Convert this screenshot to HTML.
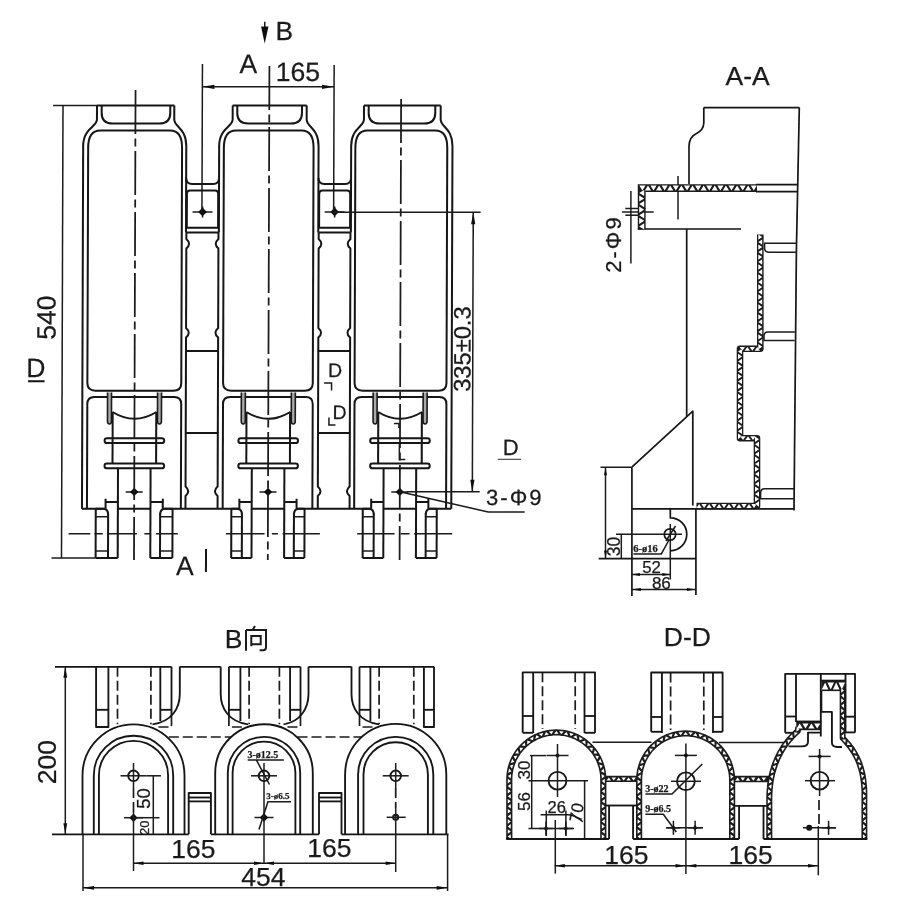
<!DOCTYPE html>
<html lang="en">
<head>
<meta charset="utf-8">
<title>Drawing</title>
<style>
html,body{margin:0;padding:0;background:#fff;}
body{width:900px;height:920px;overflow:hidden;}
svg{display:block;}
text{font-family:"Liberation Sans",sans-serif;fill:#1a1a1a;stroke:#1a1a1a;stroke-width:0.25;}
.m{fill:none;stroke:#141414;stroke-width:2.0;stroke-linecap:butt;stroke-linejoin:round;}
.m2{fill:#aaa;stroke:#1a1a1a;stroke-width:1.6;}
.t{fill:none;stroke:#1a1a1a;stroke-width:1.5;}
#aa .m{stroke-width:1.7;}
#dd .m,#bview .m{stroke-width:1.85;}
.g{fill:none;stroke:#555;stroke-width:1.2;}
.f{fill:#111;stroke:none;}
.c{fill:none;stroke:#1a1a1a;stroke-width:1.75;stroke-dasharray:44 4.5 8 4.5;}
.c2{fill:none;stroke:#1a1a1a;stroke-width:1.5;}
.d{fill:none;stroke:#1a1a1a;stroke-width:1.7;stroke-dasharray:10 4;}
</style>
</head>
<body>
<svg width="900" height="920" viewBox="0 0 900 920">
<defs><filter id="soft" x="0" y="0" width="900" height="920" filterUnits="userSpaceOnUse"><feGaussianBlur stdDeviation="0.45"/></filter></defs>
<rect x="0" y="0" width="900" height="920" fill="#ffffff"/>
<g filter="url(#soft)">
<g id="front" transform="translate(0.35,0) skewX(-0.19)">
<path class="m" d="M97.0,105.5L174.3,105.5"/>
<path class="m" d="M97.0,105.5V119.5C97.0,127 83.3,128 83.3,146V508.7"/>
<path class="m" d="M174.3,105.5V119.5C174.3,127 186.4,128 186.4,146V232.6"/>
<path class="m" d="M101.7,105.5V113Q101.7,123.6 112.7,123.6H159.3Q170.3,123.6 170.3,113V105.5"/>
<path class="m" d="M88.3,148Q88.3,130.6 100.3,130.6H170.2Q182.2,130.6 182.2,148V383Q182.2,390.7 174.2,390.7H96.3Q88.3,390.7 88.3,383Z"/>
<path class="m" d="M88.3,508.7V404Q88.3,397 95.3,397H175.2Q182.2,397 182.2,404V508.7"/>
<path class="m2" d="M108.5,392.5V421Q108.5,424 110.5,424Q112.5,424 112.5,421V392.5"/>
<path class="m" d="M113.7,412.0L113.7,464.0"/>
<path class="m2" d="M162.5,392.5V421Q162.5,424 160.5,424Q158.5,424 158.5,421V392.5"/>
<path class="m" d="M157.3,412.0L157.3,464.0"/>
<path class="m" d="M113.5,412Q135.5,425.5 157.5,412"/>
<rect class="m" x="105.7" y="438.2" width="59.6" height="4.9" rx="2.4"/>
<rect class="m" x="105.7" y="463.4" width="59.6" height="4.9" rx="2.4"/>
<path class="m" d="M119.2,468.2L119.2,557.9"/>
<path class="m" d="M151.8,468.2L151.8,557.9"/>
<path class="m" d="M97.1,508.7L97.1,557.9"/>
<path class="m" d="M109.5,513.5L109.5,557.9"/>
<path class="m" d="M97.1,508.7H105.2Q109.5,509.3 109.5,514.5"/>
<path class="t" d="M97.1,516.7L109.5,516.7"/>
<path class="t" d="M97.1,551.0L109.5,551.0"/>
<path class="m" d="M106.9,498.7L106.9,508.7"/>
<path class="m" d="M106.9,502.0L119.2,502.0"/>
<path class="m" d="M97.1,557.9L119.2,557.9"/>
<path class="m" d="M173.9,508.7L173.9,557.9"/>
<path class="m" d="M161.5,513.5L161.5,557.9"/>
<path class="m" d="M173.9,508.7H165.8Q161.5,509.3 161.5,514.5"/>
<path class="t" d="M173.9,516.7L161.5,516.7"/>
<path class="t" d="M173.9,551.0L161.5,551.0"/>
<path class="m" d="M164.1,498.7L164.1,508.7"/>
<path class="m" d="M164.1,502.0L151.8,502.0"/>
<path class="m" d="M173.9,557.9L151.8,557.9"/>
<path class="m" d="M119.2,508.7L151.8,508.7"/>
<path class="t" d="M127.0,491.9L144.0,491.9"/>
<path class="f" d="M131.3,491.9L135.5,487.7L139.7,491.9L135.5,496.1Z"/>
<path class="c" d="M135.5,90.0L135.5,560.0"/>
<path class="m" d="M232.7,105.5L306.7,105.5"/>
<path class="m" d="M232.7,105.5V119.5C232.7,127 219.3,128 219.3,146V232.6"/>
<path class="m" d="M306.7,105.5V119.5C306.7,127 318.7,128 318.7,146V232.6"/>
<path class="m" d="M237.3,105.5V113Q237.3,123.6 248.3,123.6H291.0Q302.0,123.6 302.0,113V105.5"/>
<path class="m" d="M224.0,148Q224.0,130.6 236.0,130.6H301.7Q313.7,130.6 313.7,148V383Q313.7,390.7 305.7,390.7H232.0Q224.0,390.7 224.0,383Z"/>
<path class="m" d="M224.0,508.7V404Q224.0,397 231.0,397H306.7Q313.7,397 313.7,404V508.7"/>
<path class="m2" d="M242.3,392.5V421Q242.3,424 244.3,424Q246.3,424 246.3,421V392.5"/>
<path class="m" d="M247.5,412.0L247.5,464.0"/>
<path class="m2" d="M296.3,392.5V421Q296.3,424 294.3,424Q292.3,424 292.3,421V392.5"/>
<path class="m" d="M291.1,412.0L291.1,464.0"/>
<path class="m" d="M247.3,412Q269.3,425.5 291.3,412"/>
<rect class="m" x="239.5" y="438.2" width="59.6" height="4.9" rx="2.4"/>
<rect class="m" x="239.5" y="463.4" width="59.6" height="4.9" rx="2.4"/>
<path class="m" d="M253.0,468.2L253.0,557.9"/>
<path class="m" d="M285.6,468.2L285.6,557.9"/>
<path class="m" d="M232.7,508.7L232.7,557.9"/>
<path class="m" d="M243.3,513.5L243.3,557.9"/>
<path class="m" d="M232.7,508.7H239.0Q243.3,509.3 243.3,514.5"/>
<path class="t" d="M232.7,516.7L243.3,516.7"/>
<path class="t" d="M232.7,551.0L243.3,551.0"/>
<path class="m" d="M240.7,498.7L240.7,508.7"/>
<path class="m" d="M240.7,502.0L253.0,502.0"/>
<path class="m" d="M232.7,557.9L253.0,557.9"/>
<path class="m" d="M305.9,508.7L305.9,557.9"/>
<path class="m" d="M295.3,513.5L295.3,557.9"/>
<path class="m" d="M305.9,508.7H299.6Q295.3,509.3 295.3,514.5"/>
<path class="t" d="M305.9,516.7L295.3,516.7"/>
<path class="t" d="M305.9,551.0L295.3,551.0"/>
<path class="m" d="M297.9,498.7L297.9,508.7"/>
<path class="m" d="M297.9,502.0L285.6,502.0"/>
<path class="m" d="M305.9,557.9L285.6,557.9"/>
<path class="m" d="M253.0,508.7L285.6,508.7"/>
<path class="t" d="M260.8,491.9L277.8,491.9"/>
<path class="f" d="M265.1,491.9L269.3,487.7L273.5,491.9L269.3,496.1Z"/>
<path class="c" d="M269.3,66.0L269.3,560.0"/>
<path class="m" d="M364.0,105.5L440.7,105.5"/>
<path class="m" d="M364.0,105.5V119.5C364.0,127 351.3,128 351.3,146V232.6"/>
<path class="m" d="M440.7,105.5V119.5C440.7,127 452.6,128 452.6,146V508.7"/>
<path class="m" d="M368.7,105.5V113Q368.7,123.6 379.7,123.6H424.3Q435.3,123.6 435.3,113V105.5"/>
<path class="m" d="M355.5,148Q355.5,130.6 367.5,130.6H435.4Q447.4,130.6 447.4,148V383Q447.4,390.7 439.4,390.7H363.5Q355.5,390.7 355.5,383Z"/>
<path class="m" d="M355.5,508.7V404Q355.5,397 362.5,397H440.4Q447.4,397 447.4,404V508.7"/>
<path class="m2" d="M374.1,392.5V421Q374.1,424 376.1,424Q378.1,424 378.1,421V392.5"/>
<path class="m" d="M379.3,412.0L379.3,464.0"/>
<path class="m2" d="M428.1,392.5V421Q428.1,424 426.1,424Q424.1,424 424.1,421V392.5"/>
<path class="m" d="M422.9,412.0L422.9,464.0"/>
<path class="m" d="M379.1,412Q401.1,425.5 423.1,412"/>
<rect class="m" x="371.3" y="438.2" width="59.6" height="4.9" rx="2.4"/>
<rect class="m" x="371.3" y="463.4" width="59.6" height="4.9" rx="2.4"/>
<path class="m" d="M384.8,468.2L384.8,557.9"/>
<path class="m" d="M417.4,468.2L417.4,557.9"/>
<path class="m" d="M364.1,508.7L364.1,557.9"/>
<path class="m" d="M375.1,513.5L375.1,557.9"/>
<path class="m" d="M364.1,508.7H370.8Q375.1,509.3 375.1,514.5"/>
<path class="t" d="M364.1,516.7L375.1,516.7"/>
<path class="t" d="M364.1,551.0L375.1,551.0"/>
<path class="m" d="M372.5,498.7L372.5,508.7"/>
<path class="m" d="M372.5,502.0L384.8,502.0"/>
<path class="m" d="M364.1,557.9L384.8,557.9"/>
<path class="m" d="M438.1,508.7L438.1,557.9"/>
<path class="m" d="M427.1,513.5L427.1,557.9"/>
<path class="m" d="M438.1,508.7H431.4Q427.1,509.3 427.1,514.5"/>
<path class="t" d="M438.1,516.7L427.1,516.7"/>
<path class="t" d="M438.1,551.0L427.1,551.0"/>
<path class="m" d="M429.7,498.7L429.7,508.7"/>
<path class="m" d="M429.7,502.0L417.4,502.0"/>
<path class="m" d="M438.1,557.9L417.4,557.9"/>
<path class="m" d="M384.8,508.7L417.4,508.7"/>
<path class="t" d="M392.6,491.9L409.6,491.9"/>
<path class="f" d="M396.9,491.9L401.1,487.7L405.3,491.9L401.1,496.1Z"/>
<path class="c" d="M401.1,99.0L401.1,560.0"/>
<path class="m" d="M83.3,508.7L106.9,508.7"/>
<path class="m" d="M429.7,508.7L452.6,508.7"/>
<path class="m" d="M164.1,508.7L240.7,508.7"/>
<path class="m" d="M186.4,178Q186.4,184 192.4,184H213.3Q219.3,184 219.3,178"/>
<path class="m" d="M186.4,227.7H219.3M187.2,227.7V194Q187.2,190.6 190.4,190.6H215.3Q218.5,190.6 218.5,194V227.7"/>
<path class="m" d="M186.4,232.6L219.3,232.6"/>
<path class="m" d="M186.8,232.6V239q5.4,4.8 0,9.6V328q5.4,4.8 0,9.6V486.5q5.4,4.8 0,9.6V508.7"/>
<path class="m" d="M218.9,232.6V239q-5.4,4.8 0,9.6V328q-5.4,4.8 0,9.6V486.5q-5.4,4.8 0,9.6V508.7"/>
<path class="m" d="M186.4,351.0L219.3,351.0"/>
<path class="m" d="M186.4,433.0L219.3,433.0"/>
<path class="t" d="M192.9,211.9L212.9,211.9"/>
<path class="t" d="M202.9,206.4L202.9,217.4"/>
<path class="f" d="M198.6,211.9L202.9,207.6L207.2,211.9L202.9,216.2Z"/>
<path class="m" d="M297.9,508.7L372.5,508.7"/>
<path class="m" d="M318.7,178Q318.7,184 324.7,184H345.3Q351.3,184 351.3,178"/>
<path class="m" d="M318.7,227.7H351.3M319.5,227.7V194Q319.5,190.6 322.7,190.6H347.3Q350.5,190.6 350.5,194V227.7"/>
<path class="m" d="M318.7,232.6L351.3,232.6"/>
<path class="m" d="M319.1,232.6V239q5.4,4.8 0,9.6V328q5.4,4.8 0,9.6V486.5q5.4,4.8 0,9.6V508.7"/>
<path class="m" d="M350.9,232.6V239q-5.4,4.8 0,9.6V328q-5.4,4.8 0,9.6V486.5q-5.4,4.8 0,9.6V508.7"/>
<path class="m" d="M318.7,351.0L351.3,351.0"/>
<path class="m" d="M318.7,433.0L351.3,433.0"/>
<path class="t" d="M325.0,211.9L345.0,211.9"/>
<path class="t" d="M335.0,206.4L335.0,217.4"/>
<path class="f" d="M330.7,211.9L335.0,207.6L339.3,211.9L335.0,216.2Z"/>
<path class="t" d="M53.0,105.5L97.0,105.5"/>
<path class="t" d="M53.0,557.9L97.1,557.9"/>
<path class="t" d="M63.0,105.5L63.0,557.9"/>
<text x="56.3" y="317.6" font-size="26.5" text-anchor="middle" transform="rotate(-90 56.3 317.6)">540</text>
<text x="27.2" y="377.3" font-size="26.5" text-anchor="start">D</text>
<path class="m" d="M29.0,381.2L45.5,381.2"/>
<path class="t" d="M202.3,64.0L202.3,212.0"/>
<path class="t" d="M334.0,65.0L334.0,212.0"/>
<path class="t" d="M202.3,86.8L334.0,86.8"/>
<path class="f" d="M202.3,86.8L214.3,84.7L214.3,88.9Z"/>
<path class="f" d="M334.0,86.8L322.0,88.9L322.0,84.7Z"/>
<text x="275.6" y="81.5" font-size="26.5" text-anchor="start">165</text>
<text x="239.4" y="73.2" font-size="26.5" text-anchor="start">A</text>
<path class="t" d="M264.5,21.8L264.5,30.0"/>
<path class="f" d="M260.8,26.5L268.2,26.5L264.5,43.6Z"/>
<text x="275.3" y="39.8" font-size="26.3" text-anchor="start">B</text>
<text x="177.6" y="575.2" font-size="26.5" text-anchor="start">A</text>
<path class="m" d="M207.5,549.0L207.5,572.0"/>
<path class="c2" d="M70.0,533.7L91.7,533.7"/>
<path class="c2" d="M95.8,533.7L104.2,533.7"/>
<path class="c2" d="M110.0,533.7L138.3,533.7"/>
<path class="c2" d="M145.8,533.7L152.5,533.7"/>
<path class="c2" d="M157.5,533.7L179.2,533.7"/>
<path class="c2" d="M227.3,533.7L266.0,533.7"/>
<path class="c2" d="M273.3,533.7L279.3,533.7"/>
<path class="c2" d="M284.0,533.7L321.3,533.7"/>
<path class="c2" d="M358.6,533.7L396.0,533.7"/>
<path class="c2" d="M402.0,533.7L411.0,533.7"/>
<path class="c2" d="M415.5,533.7L453.6,533.7"/>
<path class="t" d="M334.0,212.3L481.0,212.3"/>
<path class="t" d="M408.0,491.7L481.0,491.7"/>
<path class="t" d="M473.6,212.3L473.6,491.7"/>
<path class="f" d="M473.6,212.3L475.7,224.3L471.5,224.3Z"/>
<path class="f" d="M473.6,491.7L471.5,479.7L475.7,479.7Z"/>
<text x="471.3" y="349.1" font-size="23.7" text-anchor="middle" transform="rotate(-90 471.3 349.1)">335±0.3</text>
<path class="t" d="M401.1,491.7L489.5,512H526"/>
<text x="487.4" y="504.9" font-size="22" text-anchor="start" letter-spacing="2">3-Φ9</text>
<text x="503.9" y="455.2" font-size="22" text-anchor="start" fill="#444" stroke="none">D</text>
<path class="g" d="M499.0,459.3L522.3,459.3"/>
<text x="329.0" y="377.0" font-size="19.5" text-anchor="start">D</text>
<path class="t" d="M325,383H332.5V390.5"/>
<text x="333.5" y="418.8" font-size="19.5" text-anchor="start">D</text>
<path class="t" d="M330,417.5V425H336.5"/>
<path class="t" d="M395,423.5H400V428"/>
<path class="t" d="M400.5,443V459.5H406.5"/>
</g>
<g id="aa">
<text x="747.7" y="84.8" font-size="26.5" text-anchor="middle">A-A</text>
<path class="m" d="M703.8,107.6H799.3"/>
<path class="m" d="M799.3,107.6L796.4,250L794.0,510.6"/>
<path class="m" d="M703.8,107.6V123Q703.5,130 696.5,133.5Q689,137 689,146.5V184"/>
<path class="m" d="M756.0,184.7L797.6,184.7"/>
<path class="m" d="M756.0,191.6L797.4,191.6"/>
<path d="M641.7,229.6L641.7,188.1L757.0,188.1" fill="none" stroke="#1a1a1a" stroke-width="7.8" stroke-linejoin="miter"/>
<path class="m" d="M637.8,229.0L741.0,229.0"/>
<path class="m" d="M686.7,229.0L686.7,417.0"/>
<path class="t" d="M678.0,176.0L678.0,219.6"/>
<path class="t" d="M621.9,212.1L653.7,212.1"/>
<path class="t" d="M625.3,208.5L645.5,208.5"/>
<path class="t" d="M625.3,215.2L644.5,215.2"/>
<path class="t" d="M630.9,191.0L630.9,263.5"/>
<text x="621.4" y="272.7" font-size="22" text-anchor="start" transform="rotate(-90 621.4 272.7)" letter-spacing="2">2-Φ9</text>
<path d="M760.3,234.5L760.3,348.8L740.0,348.8L740.0,438.2L757.0,438.2L757.0,506.0L696.5,506.0" fill="none" stroke="#1a1a1a" stroke-width="6.6" stroke-linejoin="round"/>
<path d="M644.2,229.5L644.2,223.3L639.2,226.4ZM639.2,223.9L639.2,217.7L644.2,220.8ZM644.2,218.4L644.2,212.2L639.2,215.3ZM639.2,212.8L639.2,206.6L644.2,209.7ZM644.2,207.2L644.2,201.0L639.2,204.1ZM639.2,201.6L639.2,195.4L644.2,198.5ZM644.2,196.1L644.2,189.9L639.2,193.0ZM639.3,185.6L645.5,185.6L642.4,190.6ZM644.9,190.6L651.1,190.6L648.0,185.6ZM650.4,185.6L656.6,185.6L653.5,190.6ZM656.0,190.6L662.2,190.6L659.1,185.6ZM661.6,185.6L667.8,185.6L664.7,190.6ZM667.1,190.6L673.3,190.6L670.2,185.6ZM672.7,185.6L678.9,185.6L675.8,190.6ZM678.3,190.6L684.5,190.6L681.4,185.6ZM683.9,185.6L690.1,185.6L687.0,190.6ZM689.4,190.6L695.6,190.6L692.5,185.6ZM695.0,185.6L701.2,185.6L698.1,190.6ZM700.6,190.6L706.8,190.6L703.7,185.6ZM706.1,185.6L712.3,185.6L709.2,190.6ZM711.7,190.6L717.9,190.6L714.8,185.6ZM717.3,185.6L723.5,185.6L720.4,190.6ZM722.8,190.6L729.0,190.6L725.9,185.6ZM728.4,185.6L734.6,185.6L731.5,190.6ZM734.0,190.6L740.2,190.6L737.1,185.6ZM739.6,185.6L745.8,185.6L742.7,190.6ZM745.1,190.6L751.3,190.6L748.2,185.6ZM750.7,185.6L756.9,185.6L753.8,190.6ZM758.3,234.4L758.3,239.8L762.2,237.1ZM762.2,239.4L762.2,244.8L758.3,242.1ZM758.3,244.4L758.3,249.8L762.2,247.1ZM762.2,249.4L762.2,254.8L758.3,252.1ZM758.3,254.4L758.3,259.8L762.2,257.1ZM762.2,259.3L762.2,264.7L758.3,262.0ZM758.3,264.3L758.3,269.7L762.2,267.0ZM762.2,269.3L762.2,274.7L758.3,272.0ZM758.3,274.3L758.3,279.7L762.2,277.0ZM762.2,279.3L762.2,284.7L758.3,282.0ZM758.3,284.3L758.3,289.7L762.2,287.0ZM762.2,289.3L762.2,294.7L758.3,292.0ZM758.3,294.3L758.3,299.7L762.2,297.0ZM762.2,299.2L762.2,304.6L758.3,301.9ZM758.3,304.2L758.3,309.6L762.2,306.9ZM762.2,309.2L762.2,314.6L758.3,311.9ZM758.3,314.2L758.3,319.6L762.2,316.9ZM762.2,319.2L762.2,324.6L758.3,321.9ZM758.3,324.2L758.3,329.6L762.2,326.9ZM762.2,329.2L762.2,334.6L758.3,331.9ZM758.3,334.2L758.3,339.6L762.2,336.9ZM762.2,339.1L762.2,344.5L758.3,341.8ZM758.3,344.1L758.3,349.5L762.2,346.8ZM760.0,350.8L754.6,350.8L757.3,346.9ZM755.0,346.9L749.6,346.9L752.3,350.8ZM750.0,350.8L744.6,350.8L747.3,346.9ZM745.0,346.9L739.6,346.9L742.3,350.8ZM742.0,348.8L742.0,354.2L738.0,351.5ZM738.0,353.8L738.0,359.2L742.0,356.5ZM742.0,358.7L742.0,364.1L738.0,361.4ZM738.0,363.7L738.0,369.1L742.0,366.4ZM742.0,368.7L742.0,374.1L738.0,371.4ZM738.0,373.7L738.0,379.1L742.0,376.4ZM742.0,378.7L742.0,384.1L738.0,381.4ZM738.0,383.7L738.0,389.1L742.0,386.4ZM742.0,388.7L742.0,394.1L738.0,391.4ZM738.0,393.7L738.0,399.1L742.0,396.4ZM742.0,398.6L742.0,404.0L738.0,401.3ZM738.0,403.6L738.0,409.0L742.0,406.3ZM742.0,408.6L742.0,414.0L738.0,411.3ZM738.0,413.6L738.0,419.0L742.0,416.3ZM742.0,418.6L742.0,424.0L738.0,421.3ZM738.0,423.6L738.0,429.0L742.0,426.3ZM742.0,428.6L742.0,434.0L738.0,431.3ZM738.0,433.6L738.0,439.0L742.0,436.3ZM740.3,436.2L745.7,436.2L743.0,440.1ZM745.3,440.1L750.7,440.1L748.0,436.2ZM750.3,436.2L755.7,436.2L753.0,440.1ZM755.0,436.5L755.0,441.9L759.0,439.2ZM759.0,441.5L759.0,446.9L755.0,444.2ZM755.0,446.5L755.0,451.9L759.0,449.2ZM759.0,451.5L759.0,456.9L755.0,454.2ZM755.0,456.5L755.0,461.9L759.0,459.2ZM759.0,461.4L759.0,466.8L755.0,464.1ZM755.0,466.4L755.0,471.8L759.0,469.1ZM759.0,471.4L759.0,476.8L755.0,474.1ZM755.0,476.4L755.0,481.8L759.0,479.1ZM759.0,481.4L759.0,486.8L755.0,484.1ZM755.0,486.4L755.0,491.8L759.0,489.1ZM759.0,491.4L759.0,496.8L755.0,494.1ZM755.0,496.4L755.0,501.8L759.0,499.1ZM759.0,501.3L759.0,506.7L755.0,504.0ZM756.7,504.1L751.3,504.1L754.0,507.9ZM751.7,507.9L746.3,507.9L749.0,504.1ZM746.7,504.1L741.3,504.1L744.0,507.9ZM741.7,507.9L736.3,507.9L739.0,504.1ZM736.7,504.1L731.3,504.1L734.0,507.9ZM731.7,507.9L726.3,507.9L729.0,504.1ZM726.7,504.1L721.3,504.1L724.0,507.9ZM721.8,507.9L716.4,507.9L719.1,504.1ZM716.8,504.1L711.4,504.1L714.1,507.9ZM711.8,507.9L706.4,507.9L709.1,504.1ZM706.8,504.1L701.4,504.1L704.1,507.9ZM701.8,507.9L696.4,507.9L699.1,504.1Z" fill="#fff" stroke="none"/>
<path class="t" d="M796,243.3H764.6V248.5Q764.8,252.2 769,252.2H795.8"/>
<path class="t" d="M794.8,332H768Q764,332 764,336V340.4H794.7"/>
<path class="t" d="M794.2,488.7H764.5Q760.6,488.7 760.6,493V498.8H794.1"/>
<path class="m" d="M632.1,508.9L794.0,508.9"/>
<path class="m" d="M692.8,505.5V411.2L632.1,466.9"/>
<path class="t" d="M600.5,467.2L632.1,467.2"/>
<path class="m" d="M631.9,467.2L631.9,596.0"/>
<path class="t" d="M605.5,467.2L605.5,558.6"/>
<path class="f" d="M605.5,467.2L607.0,475.2L604.0,475.2Z"/>
<path class="f" d="M605.5,558.6L604.0,550.6L607.0,550.6Z"/>
<path class="m" d="M598.7,558.6L695.9,558.6"/>
<path class="m" d="M695.9,509.0L695.9,595.0"/>
<path class="m" d="M670.3,509V517.8A16.5,16.5 0 0 1 670.3,550.8"/>
<path class="t" d="M670.3,524.0L670.3,579.5"/>
<circle class="m" cx="670" cy="534.5" r="5.7"/>
<path class="t" d="M616.0,534.3L682.0,534.3"/>
<path class="t" d="M666.0,541.0L675.5,526.0"/>
<path class="t" d="M621.3,534.3L621.3,558.6"/>
<text x="619.7" y="546.5" font-size="17.5" text-anchor="middle" transform="rotate(-90 619.7 546.5)">30</text>
<text x="633.2" y="551.6" font-size="10.5" text-anchor="start" style="font-family:'Liberation Serif',serif" font-weight="bold">6-ø16</text>
<path class="t" d="M633.4,553.9H661.3L669,540"/>
<text x="642.2" y="572.8" font-size="16.8" text-anchor="start">52</text>
<path class="t" d="M631.9,574.4L670.3,574.4"/>
<path class="f" d="M631.9,574.4L639.9,572.9L639.9,575.9Z"/>
<path class="f" d="M670.3,574.4L662.3,575.9L662.3,572.9Z"/>
<text x="651.9" y="589.1" font-size="17" text-anchor="start">86</text>
<path class="t" d="M631.9,589.6L695.9,589.6"/>
<path class="f" d="M631.9,589.6L640.9,588.1L640.9,591.1Z"/>
<path class="f" d="M695.9,589.6L686.9,591.1L686.9,588.1Z"/>
</g>
<g id="bview">
<text x="224.8" y="648.0" font-size="26.5" text-anchor="start">B</text>
<path d="M246,630.1V650.8M246,630.1H266V647.5Q266,650.2 263,650.2H259.6M255,626L252.6,630.1M251.3,646.2V635.9H260.7V644.3H251.3" fill="none" stroke="#1a1a1a" stroke-width="2" stroke-linejoin="miter"/>
<path class="m" d="M82.5,834.3V775.4A51.0,51.0 0 0 1 184.5,775.4V834.3"/>
<path class="m" d="M93.8,834.3V775.4A39.7,39.7 0 0 1 173.2,775.4V834.3"/>
<path class="m" d="M98.9,834.3V775.4A34.6,34.6 0 0 1 168.1,775.4V834.3"/>
<path class="d" d="M117.5,666.8L117.5,724.3"/>
<path class="d" d="M150.9,666.8L150.9,724.3"/>
<path class="m" d="M160.3,666.8L160.3,721.0"/>
<path class="m" d="M160.3,709.8L171.5,709.8"/>
<path class="m" d="M171.5,666.8L171.5,716.0"/>
<path class="d" d="M171.5,716V727H156.3"/>
<circle class="m" cx="133.5" cy="775.8" r="5.3"/>
<path class="t" d="M120.5,775.8L146.5,775.8"/>
<path class="t" d="M133.5,763.0L133.5,788.0"/>
<path class="m" d="M215.2,834.3V773.0A48.8,48.8 0 0 1 312.8,773.0V834.3"/>
<path class="m" d="M227.8,834.3V773.0A36.2,36.2 0 0 1 300.2,773.0V834.3"/>
<path class="m" d="M232.6,834.3V773.0A31.4,31.4 0 0 1 295.4,773.0V834.3"/>
<path class="d" d="M249.1,666.8L249.1,724.3"/>
<path class="d" d="M279.4,666.8L279.4,724.3"/>
<path class="m" d="M240.4,666.8L240.4,721.0"/>
<path class="m" d="M228.9,709.8L240.4,709.8"/>
<path class="m" d="M228.9,666.8L228.9,716.0"/>
<path class="d" d="M228.9,716V727H244.4"/>
<path class="m" d="M290.1,666.8L290.1,721.0"/>
<path class="m" d="M290.1,709.8L300.5,709.8"/>
<path class="m" d="M300.5,666.8L300.5,716.0"/>
<path class="d" d="M300.5,716V727H286.1"/>
<circle class="m" cx="264.0" cy="775.8" r="5.3"/>
<path class="t" d="M251.0,775.8L277.0,775.8"/>
<path class="t" d="M264.0,763.0L264.0,788.0"/>
<path class="m" d="M345.1,834.3V774.4A50.6,50.6 0 0 1 446.3,774.4V834.3"/>
<path class="m" d="M358.1,834.3V774.4A37.6,37.6 0 0 1 433.3,774.4V834.3"/>
<path class="m" d="M363.5,834.3V774.4A32.2,32.2 0 0 1 427.9,774.4V834.3"/>
<path class="d" d="M379.1,666.8L379.1,724.3"/>
<path class="d" d="M413.8,666.8L413.8,724.3"/>
<path class="m" d="M370.4,666.8L370.4,721.0"/>
<path class="m" d="M359.5,709.8L370.4,709.8"/>
<path class="m" d="M359.5,666.8L359.5,716.0"/>
<path class="d" d="M359.5,716V727H374.4"/>
<circle class="m" cx="395.7" cy="775.8" r="5.3"/>
<path class="t" d="M382.7,775.8L408.7,775.8"/>
<path class="t" d="M395.7,763.0L395.7,788.0"/>
<path class="m" d="M96.1,666.8V727H108.4V666.8"/>
<path class="m" d="M96.1,709.8L108.4,709.8"/>
<path class="m" d="M423.9,666.8V727H434.0V666.8"/>
<path class="m" d="M423.9,709.8L434.0,709.8"/>
<path class="m" d="M55.0,666.8L171.5,666.8"/>
<path class="m" d="M179.6,666.8L220.7,666.8"/>
<path class="m" d="M228.9,666.8L300.5,666.8"/>
<path class="m" d="M308.5,666.8L351.5,666.8"/>
<path class="m" d="M359.5,666.8L434.0,666.8"/>
<path class="m" d="M179.8,666.8V694C179.8,708 171.8,722 152.5,724.3"/>
<path class="m" d="M220.7,666.8V694C220.7,708 228.7,722 248.0,724.3"/>
<path class="d" d="M168.8,737.0L231.2,737.0"/>
<path class="m" d="M308.5,666.8V694C308.5,708 300.5,722 283.5,724.3"/>
<path class="m" d="M351.5,666.8V694C351.5,708 359.5,722 379.0,724.3"/>
<path class="d" d="M297.5,737.0L362.0,737.0"/>
<path class="m" d="M188.7,834.3V793H210.9V834.3"/>
<path class="m" d="M188.7,797.5L210.9,797.5"/>
<path class="m" d="M188.7,801.4L210.9,801.4"/>
<path class="m" d="M319.0,834.3V793H341.5V834.3"/>
<path class="m" d="M319.0,797.5L341.5,797.5"/>
<path class="m" d="M319.0,801.4L341.5,801.4"/>
<path class="m" d="M52.0,834.3L188.7,834.3"/>
<path class="m" d="M210.9,834.3L319.0,834.3"/>
<path class="m" d="M341.5,834.3L448.5,834.3"/>
<path class="t" d="M124.0,817.7L143.0,817.7"/>
<path class="f" d="M129.3,817.7L133.5,813.5L137.7,817.7L133.5,821.9Z"/>
<path class="d" d="M133.5,788.0L133.5,812.0"/>
<path class="t" d="M133.5,812.0L133.5,871.0"/>
<path class="t" d="M254.5,817.5L273.5,817.5"/>
<path class="f" d="M259.8,817.5L264.0,813.3L268.2,817.5L264.0,821.7Z"/>
<path class="t" d="M264.0,788.0L264.0,864.0"/>
<circle class="m" cx="395.7" cy="817.3" r="2.6"/>
<path class="t" d="M386.7,817.3L405.7,817.3"/>
<path class="d" d="M395.7,788.0L395.7,808.0"/>
<path class="t" d="M395.7,808.0L395.7,872.0"/>
<path class="t" d="M146.5,775.8L161.0,775.8"/>
<path class="t" d="M133.5,817.7L159.5,817.7"/>
<path class="t" d="M153.3,775.8L153.3,834.3"/>
<text x="150.4" y="798.4" font-size="18.5" text-anchor="middle" transform="rotate(-90 150.4 798.4)">50</text>
<text x="149.4" y="827.8" font-size="13" text-anchor="middle" transform="rotate(-90 149.4 827.8)">20</text>
<text x="247.5" y="758.2" font-size="10" text-anchor="start" style="font-family:'Liberation Serif',serif" font-weight="bold">3-ø12.5</text>
<path class="t" d="M247.7,759.9H283.8M256.3,759.9L269.5,784.5"/>
<text x="266.3" y="798.8" font-size="9" text-anchor="start" style="font-family:'Liberation Serif',serif" font-weight="bold">3-ø6.5</text>
<path class="t" d="M291,801.7H267.9L259,829.5"/>
<path class="t" d="M65.3,666.8L65.3,834.3"/>
<path class="f" d="M65.3,666.8L67.2,677.8L63.4,677.8Z"/>
<path class="f" d="M65.3,834.3L63.4,823.3L67.2,823.3Z"/>
<text x="56.4" y="762.1" font-size="26.6" text-anchor="middle" transform="rotate(-90 56.4 762.1)">200</text>
<path class="t" d="M133.5,863.2L395.7,863.2"/>
<path class="f" d="M133.5,863.2L143.5,861.5L143.5,864.9Z"/>
<path class="f" d="M264.0,863.2L254.0,864.9L254.0,861.5Z"/>
<path class="f" d="M264.0,863.2L274.0,861.5L274.0,864.9Z"/>
<path class="f" d="M395.7,863.2L385.7,864.9L385.7,861.5Z"/>
<text x="171.3" y="858.4" font-size="26.5" text-anchor="start">165</text>
<text x="307.3" y="857.0" font-size="26.5" text-anchor="start">165</text>
<path class="t" d="M83.0,834.3L83.0,891.0"/>
<path class="t" d="M447.6,834.3L447.6,891.0"/>
<path class="t" d="M83.0,887.8L447.6,887.8"/>
<path class="f" d="M83.0,887.8L94.0,885.9L94.0,889.7Z"/>
<path class="f" d="M447.6,887.8L436.6,889.7L436.6,885.9Z"/>
<text x="241.3" y="885.6" font-size="26.5" text-anchor="start">454</text>
</g>
<g id="dd">
<text x="687.4" y="645.6" font-size="26.5" text-anchor="middle">D-D</text>
<path class="t" d="M592.5,742.3L651.5,742.3"/>
<path class="t" d="M719.0,742.5L786.0,742.5"/>
<path class="m" d="M522.7,732.8V672.3H595V732.8"/>
<path class="m" d="M522.7,732.8L533.2,732.8"/>
<path class="m" d="M584.5,732.8L595.0,732.8"/>
<path class="m" d="M533.2,672.3L533.2,733.0"/>
<path class="m" d="M584.5,672.3L584.5,733.0"/>
<path class="d" d="M542.5,672.3L542.5,729.0"/>
<path class="d" d="M575.2,672.3L575.2,729.0"/>
<path class="m" d="M522.7,716.0L533.2,716.0"/>
<path class="m" d="M584.5,716.0L595.0,716.0"/>
<path class="m" d="M651.2,731.8V672.5H722.6V731.8"/>
<path class="m" d="M651.2,731.8L661.9,731.8"/>
<path class="m" d="M713.0,731.8L722.6,731.8"/>
<path class="m" d="M661.9,672.5L661.9,733.0"/>
<path class="m" d="M713.0,672.5L713.0,733.0"/>
<path class="d" d="M670.6,672.5L670.6,730.0"/>
<path class="d" d="M703.8,672.5L703.8,730.0"/>
<path class="m" d="M651.2,717.0L661.9,717.0"/>
<path class="m" d="M713.0,717.0L722.6,717.0"/>
<path class="m" d="M785.2,732.8V673.8H855V732.4"/>
<path class="m" d="M821.0,680.6L845.4,680.6"/>
<path class="m" d="M785.2,732.8L797.0,732.8"/>
<path class="m" d="M845.5,732.4L855.0,732.4"/>
<path class="m" d="M796.0,673.4L796.0,722.0"/>
<path class="m" d="M785.2,716.5L796.0,716.5"/>
<path class="m" d="M845.5,716.7L855.0,716.7"/>
<path class="m" d="M820.8,673.4L820.8,736.5"/>
<path class="m" d="M845.5,673.4L845.5,733.0"/>
<path class="m" d="M796.0,721.5L821.5,721.5"/>
<path d="M509.3,839.0L509.3,779.4L509.4,776.3L509.7,773.3L510.2,770.2L510.9,767.2L511.8,764.3L512.9,761.4L514.1,758.6L515.6,755.9L517.2,753.3L519.0,750.8L521.0,748.4L523.1,746.2L525.3,744.1L527.7,742.1L530.2,740.3L532.8,738.7L535.5,737.2L538.3,736.0L541.2,734.9L544.1,734.0L547.1,733.3L550.2,732.8L553.2,732.5L556.3,732.4L559.4,732.5L562.4,732.8L565.5,733.3L568.5,734.0L571.4,734.9L574.3,736.0L577.1,737.2L579.8,738.7L582.4,740.3L584.9,742.1L587.3,744.1L589.5,746.2L591.6,748.4L593.6,750.8L595.4,753.3L597.0,755.9L598.5,758.6L599.7,761.4L600.8,764.3L601.7,767.2L602.4,770.2L602.9,773.3L603.2,776.3L603.3,779.4L603.3,839.0" fill="none" stroke="#1a1a1a" stroke-width="6.2" stroke-linejoin="round"/>
<path d="M639.1,839.0L639.1,779.9L639.2,776.9L639.5,773.8L640.0,770.8L640.7,767.9L641.6,765.0L642.6,762.1L643.9,759.3L645.3,756.6L646.9,754.1L648.7,751.6L650.6,749.2L652.7,747.0L654.9,744.9L657.3,743.0L659.8,741.2L662.4,739.6L665.0,738.2L667.8,736.9L670.7,735.9L673.6,735.0L676.5,734.3L679.5,733.8L682.6,733.5L685.6,733.4L688.6,733.5L691.7,733.8L694.7,734.3L697.6,735.0L700.5,735.9L703.4,736.9L706.2,738.2L708.9,739.6L711.4,741.2L713.9,743.0L716.3,744.9L718.5,747.0L720.6,749.2L722.5,751.6L724.3,754.1L725.9,756.6L727.3,759.3L728.6,762.1L729.6,765.0L730.5,767.9L731.2,770.8L731.7,773.8L732.0,776.9L732.1,779.9L732.1,839.0" fill="none" stroke="#1a1a1a" stroke-width="6.2" stroke-linejoin="round"/>
<path d="M603.3,778.9L639.1,778.9" fill="none" stroke="#1a1a1a" stroke-width="6.3" stroke-linejoin="round"/>
<path d="M732.1,779.1L769.3,779.1" fill="none" stroke="#1a1a1a" stroke-width="6.5" stroke-linejoin="round"/>
<path d="M798.3,727.0L797.8,731.0L796.2,732.4L794.7,733.9L793.2,735.4L791.7,736.9L790.4,738.4L789.0,739.9L787.7,741.5L786.5,743.1L785.3,744.6L784.2,746.2L783.1,747.9L782.1,749.5L781.1,751.2L780.2,752.8L779.3,754.5L778.5,756.2L777.6,757.9L776.9,759.6L776.2,761.3L775.5,763.0L774.8,764.7L774.3,766.5L773.7,768.2L773.2,770.0L772.7,771.7L772.2,773.5L771.8,775.2L771.4,777.0L771.1,778.7L770.8,780.5L770.5,782.3L770.3,784.0L770.0,785.8L769.9,787.5L769.7,789.3L769.6,791.0L769.5,792.8L769.4,794.5L769.3,796.3L769.3,798.0L769.3,839.0" fill="none" stroke="#1a1a1a" stroke-width="6.1" stroke-linejoin="round"/>
<path d="M842.6,688.0L842.6,738.0L843.2,738.6L843.8,739.2L844.4,739.9L845.0,740.6L845.7,741.3L846.3,742.1L847.0,742.8L847.7,743.6L848.4,744.5L849.1,745.3L849.8,746.3L850.5,747.2L851.3,748.2L852.0,749.2L852.7,750.3L853.4,751.4L854.1,752.5L854.8,753.7L855.5,755.0L856.2,756.2L856.9,757.6L857.5,759.0L858.2,760.4L858.8,761.9L859.4,763.4L859.9,765.0L860.5,766.7L861.0,768.4L861.5,770.2L862.0,772.0L862.4,773.9L862.8,775.9L863.1,777.9L863.4,780.0L863.7,782.2L863.9,784.4L864.1,786.7L864.3,789.0L864.4,791.5L864.4,794.0L864.4,839.0" fill="none" stroke="#1a1a1a" stroke-width="5.9" stroke-linejoin="round"/>
<path d="M796.3,726.0L820.6,726.0" fill="none" stroke="#1a1a1a" stroke-width="8.4" stroke-linejoin="miter"/>
<path d="M821.5,685.9L845.4,685.9" fill="none" stroke="#1a1a1a" stroke-width="10.4" stroke-linejoin="miter"/>
<path d="M510.8,838.8L510.8,834.2L507.8,836.5ZM507.8,833.8L507.8,829.2L510.8,831.5ZM510.8,828.7L510.8,824.1L507.8,826.4ZM507.8,823.7L507.8,819.1L510.8,821.4ZM510.8,818.7L510.8,814.1L507.8,816.4ZM507.8,813.6L507.8,809.0L510.8,811.3ZM510.8,808.6L510.8,804.0L507.8,806.3ZM507.8,803.6L507.8,799.0L510.8,801.3ZM510.8,798.5L510.8,793.9L507.8,796.2ZM507.8,793.5L507.8,788.9L510.8,791.2ZM510.8,788.4L510.8,783.8L507.8,786.1ZM507.8,783.4L507.8,778.8L510.8,781.1ZM510.7,778.5L511.1,773.9L507.9,775.9ZM508.2,773.1L509.0,768.6L511.5,771.3ZM512.0,768.8L513.3,764.4L509.8,765.8ZM510.7,763.1L512.3,758.8L514.3,762.0ZM515.3,759.6L517.5,755.6L513.7,756.2ZM515.1,753.6L517.8,749.9L518.9,753.5ZM520.5,751.4L523.4,747.8L519.6,747.7ZM521.6,745.5L524.9,742.4L525.3,746.1ZM527.1,744.4L530.9,741.7L527.3,740.6ZM529.6,738.9L533.5,736.5L533.1,740.3ZM535.3,739.0L539.5,737.1L536.2,735.3ZM538.8,734.0L543.2,732.7L541.9,736.3ZM544.4,735.5L548.9,734.4L546.0,732.0ZM548.8,731.4L553.4,731.0L551.4,734.2ZM554.1,734.0L558.6,733.8L556.3,730.9ZM559.2,731.0L563.8,731.4L561.2,734.2ZM563.7,734.4L568.2,735.5L566.6,732.0ZM569.4,732.7L573.8,734.0L570.7,736.3ZM573.1,737.1L577.3,739.0L576.4,735.3ZM579.1,736.5L583.0,738.9L579.5,740.3ZM581.7,741.7L585.5,744.4L585.3,740.6ZM587.7,742.4L591.0,745.5L587.3,746.1ZM589.2,747.8L592.1,751.4L593.0,747.7ZM594.8,749.9L597.5,753.6L593.7,753.5ZM595.1,755.6L597.3,759.6L598.9,756.2ZM600.3,758.8L601.9,763.1L598.3,762.0ZM599.3,764.4L600.6,768.8L602.8,765.8ZM603.6,768.6L604.4,773.1L601.1,771.3ZM601.5,773.9L601.9,778.5L604.7,775.9ZM604.8,778.8L604.8,783.4L601.8,781.1ZM601.8,783.8L601.8,788.4L604.8,786.1ZM604.8,788.9L604.8,793.5L601.8,791.2ZM601.8,793.9L601.8,798.5L604.8,796.2ZM604.8,799.0L604.8,803.6L601.8,801.3ZM601.8,804.0L601.8,808.6L604.8,806.3ZM604.8,809.0L604.8,813.6L601.8,811.3ZM601.8,814.1L601.8,818.7L604.8,816.4ZM604.8,819.1L604.8,823.7L601.8,821.4ZM601.8,824.1L601.8,828.7L604.8,826.4ZM604.8,829.2L604.8,833.8L601.8,831.5ZM601.8,834.2L601.8,838.8L604.8,836.5ZM640.6,838.8L640.6,834.2L637.6,836.5ZM637.6,833.8L637.6,829.2L640.6,831.5ZM640.6,828.8L640.6,824.2L637.6,826.5ZM637.6,823.8L637.6,819.2L640.6,821.5ZM640.6,818.9L640.6,814.3L637.6,816.6ZM637.6,813.9L637.6,809.3L640.6,811.6ZM640.6,808.9L640.6,804.3L637.6,806.6ZM637.6,803.9L637.6,799.3L640.6,801.6ZM640.6,798.9L640.6,794.3L637.6,796.6ZM637.6,793.9L637.6,789.3L640.6,791.6ZM640.6,788.9L640.6,784.3L637.6,786.6ZM637.6,784.0L637.6,779.4L640.6,781.7ZM640.5,779.1L640.9,774.5L637.7,776.5ZM638.0,773.8L638.7,769.2L641.3,772.0ZM641.8,769.5L643.1,765.1L639.5,766.4ZM640.4,763.8L642.0,759.5L644.0,762.7ZM645.0,760.4L647.2,756.4L643.5,757.0ZM644.8,754.4L647.5,750.7L648.6,754.3ZM650.1,752.2L653.0,748.7L649.3,748.5ZM651.2,746.4L654.6,743.2L654.9,747.0ZM656.7,745.3L660.5,742.6L656.8,741.5ZM659.1,739.9L663.0,737.5L662.6,741.2ZM664.8,740.0L669.0,738.1L665.7,736.3ZM668.3,735.0L672.7,733.7L671.3,737.2ZM673.8,736.5L678.3,735.4L675.4,733.0ZM678.2,732.4L682.8,732.0L680.8,735.2ZM683.4,735.0L687.9,734.8L685.6,731.9ZM688.4,732.0L693.0,732.4L690.4,735.2ZM692.9,735.4L697.4,736.5L695.8,733.0ZM698.5,733.7L702.9,735.0L699.9,737.2ZM702.2,738.1L706.4,740.0L705.5,736.3ZM708.2,737.5L712.1,739.9L708.6,741.2ZM710.7,742.6L714.5,745.3L714.4,741.5ZM716.6,743.2L720.0,746.4L716.3,747.0ZM718.2,748.7L721.1,752.2L721.9,748.5ZM723.7,750.7L726.4,754.4L722.6,754.3ZM724.0,756.4L726.2,760.4L727.7,757.0ZM729.2,759.5L730.8,763.8L727.2,762.7ZM728.1,765.1L729.4,769.5L731.7,766.4ZM732.5,769.2L733.2,773.8L729.9,772.0ZM730.3,774.5L730.7,779.1L733.5,776.5ZM733.6,779.4L733.6,784.0L730.6,781.7ZM730.6,784.3L730.6,788.9L733.6,786.6ZM733.6,789.3L733.6,793.9L730.6,791.6ZM730.6,794.3L730.6,798.9L733.6,796.6ZM733.6,799.3L733.6,803.9L730.6,801.6ZM730.6,804.3L730.6,808.9L733.6,806.6ZM733.6,809.3L733.6,813.9L730.6,811.6ZM730.6,814.3L730.6,818.9L733.6,816.6ZM733.6,819.2L733.6,823.8L730.6,821.5ZM730.6,824.2L730.6,828.8L733.6,826.5ZM733.6,829.2L733.6,833.8L730.6,831.5ZM730.6,834.2L730.6,838.8L733.6,836.5ZM606.5,780.4L611.1,780.4L608.8,777.4ZM611.5,777.4L616.1,777.4L613.8,780.4ZM616.4,780.4L621.0,780.4L618.7,777.4ZM621.4,777.4L626.0,777.4L623.7,780.4ZM626.3,780.4L630.9,780.4L628.6,777.4ZM631.3,777.4L635.9,777.4L633.6,780.4ZM735.3,780.8L739.9,780.8L737.6,777.5ZM740.5,777.5L745.1,777.5L742.8,780.8ZM745.8,780.8L750.4,780.8L748.1,777.5ZM751.0,777.5L755.6,777.5L753.3,780.8ZM756.3,780.8L760.9,780.8L758.6,777.5ZM761.5,777.5L766.1,777.5L763.8,780.8ZM796.8,727.0L796.3,731.6L799.4,729.7ZM797.9,732.8L794.6,736.0L794.2,732.3ZM792.2,734.2L789.1,737.6L792.8,737.9ZM791.0,739.8L788.1,743.4L787.3,739.8ZM785.6,741.9L782.8,745.6L786.5,745.5ZM785.0,747.6L782.6,751.5L781.3,748.0ZM779.8,750.4L777.7,754.5L781.3,753.8ZM780.1,756.1L778.1,760.3L776.5,757.0ZM775.3,759.5L773.6,763.8L777.2,762.7ZM776.2,765.1L774.8,769.5L772.7,766.4ZM771.9,769.1L770.7,773.5L774.1,772.1ZM773.4,774.6L772.5,779.1L770.1,776.3ZM769.6,779.0L768.8,783.5L772.1,781.7ZM771.7,784.3L771.2,788.9L768.5,786.3ZM768.2,789.1L768.0,793.6L771.0,791.5ZM770.8,794.2L770.7,798.8L767.9,796.4ZM767.8,799.1L767.8,803.7L770.8,801.4ZM770.8,804.2L770.8,808.8L767.8,806.5ZM767.8,809.2L767.8,813.8L770.8,811.5ZM770.8,814.2L770.8,818.8L767.8,816.5ZM767.8,819.2L767.8,823.8L770.8,821.5ZM770.8,824.2L770.8,828.8L767.8,826.5ZM767.8,829.2L767.8,833.8L770.8,831.5ZM770.8,834.2L770.8,838.8L767.8,836.5ZM841.2,688.2L841.2,692.8L844.0,690.5ZM844.0,693.3L844.0,697.9L841.2,695.6ZM841.2,698.3L841.2,702.9L844.0,700.6ZM844.0,703.4L844.0,708.0L841.2,705.7ZM841.2,708.4L841.2,713.0L844.0,710.7ZM844.0,713.5L844.0,718.1L841.2,715.8ZM841.2,718.6L841.2,723.2L844.0,720.9ZM844.0,723.6L844.0,728.2L841.2,725.9ZM841.2,728.7L841.2,733.3L844.0,731.0ZM844.0,733.8L844.0,738.4L841.2,736.1ZM842.2,739.5L845.3,742.9L845.7,739.4ZM847.6,741.4L850.6,745.0L847.0,744.9ZM848.7,747.0L851.4,750.7L852.3,747.3ZM853.9,749.6L856.3,753.5L852.8,753.0ZM854.2,755.3L856.2,759.4L857.6,756.1ZM858.9,758.7L860.7,762.9L857.3,761.8ZM858.3,764.3L859.7,768.7L861.6,765.6ZM862.4,768.4L863.5,772.8L860.4,771.2ZM861.0,773.9L861.9,778.4L864.1,775.6ZM864.6,778.4L865.2,783.0L862.2,781.0ZM862.5,783.7L862.9,788.3L865.4,785.8ZM865.6,788.6L865.8,793.2L863.0,791.0ZM863.0,793.7L863.0,798.3L865.8,796.0ZM865.8,798.8L865.8,803.4L863.0,801.1ZM863.0,803.8L863.0,808.4L865.8,806.1ZM865.8,808.9L865.8,813.5L863.0,811.2ZM863.0,814.0L863.0,818.6L865.8,816.3ZM865.8,819.0L865.8,823.6L863.0,821.3ZM863.0,824.1L863.0,828.7L865.8,826.4ZM865.8,829.1L865.8,833.7L863.0,831.4ZM863.0,834.2L863.0,838.8L865.8,836.5ZM796.6,728.6L802.8,728.6L799.7,723.4ZM802.4,723.4L808.6,723.4L805.5,728.6ZM808.3,728.6L814.5,728.6L811.4,723.4ZM814.1,723.4L820.3,723.4L817.2,728.6ZM821.8,689.4L828.4,689.4L825.1,682.4ZM827.4,682.4L834.0,682.4L830.7,689.4ZM832.9,689.4L839.5,689.4L836.2,682.4ZM838.5,682.4L845.1,682.4L841.8,689.4Z" fill="#fff" stroke="none"/>
<path class="m" d="M821,732.6H808V742Q808,746.4 802,746.4H788.5"/>
<path class="m" d="M821.4,691V711.8H831.9V742.5Q831.9,747 837.5,747H842"/>
<path class="m" d="M506.2,839.0L609.1,839.0"/>
<path class="m" d="M633.1,839.0L739.1,839.0"/>
<path class="m" d="M763.5,839.0L867.4,839.0"/>
<path class="m" d="M606.0,805.5L636.5,805.5"/>
<path class="m" d="M609.1,805.5L609.1,839.0"/>
<path class="m" d="M633.1,805.5L633.1,839.0"/>
<path class="m" d="M735.0,805.8L768.5,805.8"/>
<path class="m" d="M739.1,805.8L739.1,839.0"/>
<path class="m" d="M763.5,805.8L763.5,839.0"/>
<circle class="m" cx="557.5" cy="780.7" r="8.9" fill="none"/>
<path class="t" d="M546.5,755.5L568.5,755.5"/>
<path class="f" d="M554.9,755.5L557.5,752.9L560.1,755.5L557.5,758.1Z"/>
<circle class="m" cx="685.9" cy="781.3" r="8.9" fill="none"/>
<path class="t" d="M674.9,755.4L696.9,755.4"/>
<path class="f" d="M683.3,755.4L685.9,752.8L688.5,755.4L685.9,758.0Z"/>
<circle class="m" cx="819.6" cy="780.7" r="8.9" fill="none"/>
<path class="t" d="M808.6,756.4L830.6,756.4"/>
<path class="f" d="M817.0,756.4L819.6,753.8L822.2,756.4L819.6,759.0Z"/>
<path class="t" d="M557.5,744.0L557.5,797.0"/>
<path class="t" d="M555.3,820.0L555.3,873.6"/>
<path class="t" d="M685.9,743.5L685.9,874.0"/>
<path class="t" d="M819.6,749.0L819.6,796.0"/>
<path class="d" d="M819.0,800.0L819.0,824.0"/>
<path class="t" d="M818.3,826.0L818.3,875.3"/>
<path class="t" d="M528.5,780.7L588.0,780.7"/>
<path class="t" d="M671.0,781.3L701.0,781.3"/>
<path class="t" d="M805.0,780.7L835.0,780.7"/>
<path class="t" d="M539.0,828.5L553.0,828.5"/>
<path class="t" d="M546.0,821.5L546.0,835.5"/>
<path class="f" d="M543.4,828.5L546.0,825.9L548.6,828.5L546.0,831.1Z"/>
<path class="t" d="M558.8,828.5L572.8,828.5"/>
<path class="t" d="M565.8,821.5L565.8,835.5"/>
<path class="f" d="M563.2,828.5L565.8,825.9L568.4,828.5L565.8,831.1Z"/>
<path class="t" d="M528.5,828.5L574.0,828.5"/>
<path class="t" d="M666.4,827.8L680.4,827.8"/>
<path class="t" d="M673.4,820.8L673.4,834.8"/>
<path class="f" d="M670.8,827.8L673.4,825.2L676.0,827.8L673.4,830.4Z"/>
<path class="t" d="M688.1,827.8L702.1,827.8"/>
<path class="t" d="M695.1,820.8L695.1,834.8"/>
<path class="f" d="M692.5,827.8L695.1,825.2L697.7,827.8L695.1,830.4Z"/>
<path class="t" d="M666.0,827.8L703.0,827.8"/>
<circle class="f" cx="809.2" cy="827.8" r="3"/>
<path class="t" d="M821.6,827.8L835.6,827.8"/>
<path class="t" d="M828.6,820.8L828.6,834.8"/>
<path class="f" d="M826.4,827.8L828.6,825.6L830.8,827.8L828.6,830.0Z"/>
<path class="t" d="M803.0,827.8L836.0,827.8"/>
<path class="t" d="M531.7,755.6L531.7,828.3"/>
<path class="t" d="M530.0,755.6L546.0,755.6"/>
<path class="t" d="M584.6,780.7L584.6,839.0"/>
<path class="t" d="M540.6,814.8H568Q575,815 582.8,821.7"/>
<path class="t" d="M546.3,810.6L546.3,836.0"/>
<path class="t" d="M565.9,810.6L565.9,836.0"/>
<text x="530.0" y="770.0" font-size="17" text-anchor="middle" transform="rotate(-90 530.0 770.0)">30</text>
<text x="529.6" y="801.4" font-size="17" text-anchor="middle" transform="rotate(-90 529.6 801.4)">56</text>
<text x="547.6" y="812.8" font-size="16.5" text-anchor="start">26</text>
<text x="582.3" y="813.6" font-size="17" text-anchor="middle" transform="rotate(-80 582.3 813.6)">70</text>
<text x="645.2" y="791.6" font-size="10" text-anchor="start" style="font-family:'Liberation Serif',serif" font-weight="bold">3-ø22</text>
<path class="t" d="M645.4,794H672L702.3,764"/>
<text x="645.2" y="811.8" font-size="10" text-anchor="start" style="font-family:'Liberation Serif',serif" font-weight="bold">9-ø6.5</text>
<path class="t" d="M645.4,814.2H663.3L676.3,832"/>
<path class="t" d="M554.7,865.8L818.0,865.8"/>
<path class="f" d="M554.9,865.8L564.9,864.1L564.9,867.5Z"/>
<path class="f" d="M685.5,865.8L675.5,867.5L675.5,864.1Z"/>
<path class="f" d="M686.3,865.8L696.3,864.1L696.3,867.5Z"/>
<path class="f" d="M818.0,865.8L808.0,867.5L808.0,864.1Z"/>
<text x="604.3" y="864.3" font-size="26.5" text-anchor="start">165</text>
<text x="728.5" y="864.4" font-size="26.5" text-anchor="start">165</text>
</g>
</g>
</svg>
</body>
</html>
